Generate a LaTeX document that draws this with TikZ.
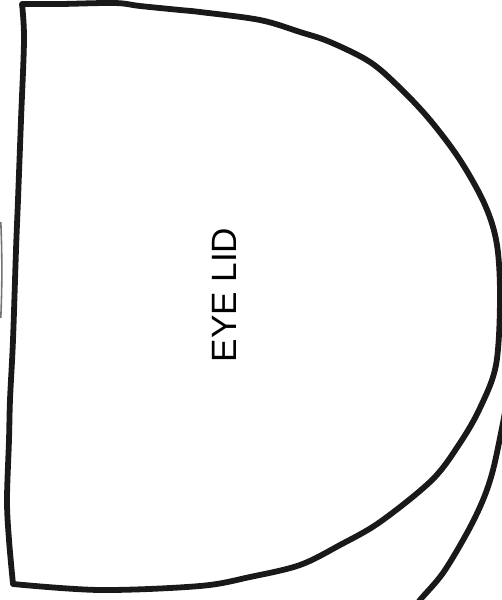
\documentclass[tikz,border=0pt]{standalone}
\usepackage{fontspec}
\setmainfont{Liberation Sans}
\usepackage{tikz}
\tikzset{
  outline/.style={draw=black!90, line width=3.3pt, line join=round, line cap=round},
  faint/.style={draw=black!55, line width=0.9pt},
  lab/.style={font=\fontsize{20}{22}\selectfont, inner sep=0pt, rotate=90},
}

\begin{document}
\begin{tikzpicture}[x=0.02cm,y=-0.02cm]
% page, pixel grid of the sheet
\useasboundingbox (0,0) rectangle (502,600);
\clip (0,0) rectangle (502,600);
% lid piece: wavy top, round right side, bottom, then hand drawn left edge
\draw[outline] plot[smooth, tension=0.55] coordinates {(22,4) (60,4) (115,3) (140,6) (180,10)
    (200,12) (260,20) (300,32) (330,42) (370,62) (400,88) (430,120) (460,160) (485,205)
    (497,245) (500,300) (496,365) (480,408) (460,443) (432,480) (380,522) (340,545)
    (300,565) (250,577) (200,586) (100,590) (13,584)}
  -- plot[smooth, tension=0.55] coordinates {(13,584) (9,540) (7,500) (9,440) (10,400)
    (13,340) (16,250) (18,200) (21,120) (24,40) (22,4)} -- cycle;
% next piece, cut off at the lower right
\draw[outline] plot[smooth, tension=0.55] coordinates {(505,412) (502,428) (493,470)
    (483,500) (467,533) (443,573) (420,600) (415,608)};
% trace of a piece at the left margin
\draw[faint] (0.8,222) .. controls (2.2,255) and (2.2,285) .. (0.8,318);
% label
\node[lab] (lid) at (224,295) {EYE LID};
\end{tikzpicture}
\end{document}
